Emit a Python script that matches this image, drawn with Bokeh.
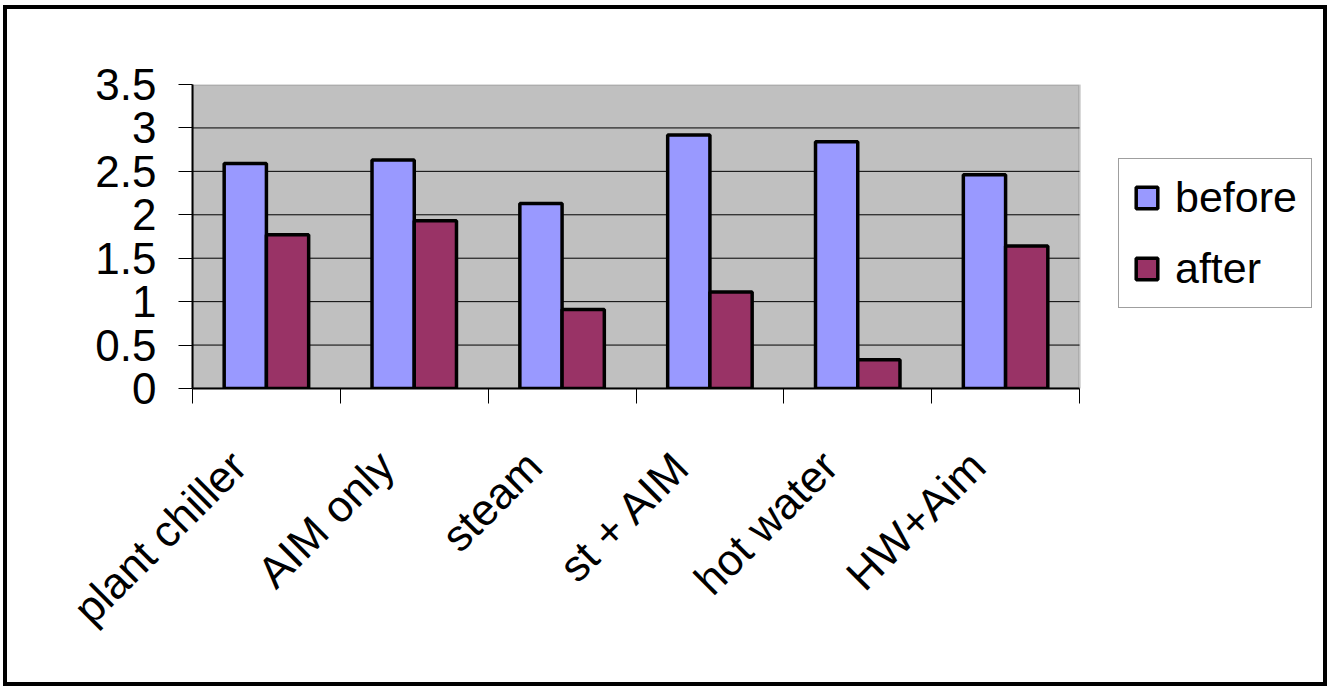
import numpy as np
from bokeh.plotting import figure
from bokeh.models import (ColumnDataSource, Range1d, FixedTicker, NumeralTickFormatter,
                          Legend, LegendItem, BoxAnnotation)
from bokeh.embed import file_html
from bokeh.resources import INLINE

categories = ["plant chiller", "AIM only", "steam", "st + AIM", "hot water", "HW+Aim"]
before = [2.59, 2.63, 2.13, 2.92, 2.84, 2.46]
after = [1.77, 1.93, 0.91, 1.11, 0.33, 1.64]
y_ticks = [0, 0.5, 1, 1.5, 2, 2.5, 3, 3.5]

FONT = "Liberation Sans"
FS = "44px"
BORDER = 4
W, H = 1316, 673          # canvas inside the 4px page border
LW, LH = W + 2 * BORDER, H + 2 * BORDER   # size Bokeh lays out with (host incl. border)
OX, OY = 7, 9             # canvas origin in the window
PL, PR, PT, PB = 192, 1079, 84, 388   # grey plot area in window pixels

n = len(categories)
idx = np.arange(n)
bw = 1 / 3.5              # Excel gap width 150%
lab_shift = 0.19          # slanted labels sit left of the category centre
centers = idx + lab_shift
src = ColumnDataSource(dict(xb=centers - bw / 2, xa=centers + bw / 2,
                            before=before, after=after))

x0 = lab_shift - 0.5
x1 = n - 0.5 + lab_shift
# the frame runs on to the right edge of the canvas so that the legend is not clipped
x_end = x0 + (OX + LW - PL) / (PR - PL) * (x1 - x0)

p = figure(width=W, height=H, output_backend="svg", toolbar_location=None,
           x_range=Range1d(x0, x_end), y_range=Range1d(0, 3.5),
           min_border_left=PL - OX, min_border_right=0,
           min_border_top=PT - OY, min_border_bottom=OY + LH - PB,
           styles={"border": f"{BORDER}px solid black", "margin-left": "3px",
                   "margin-top": "5px", "box-sizing": "content-box"})
p.background_fill_color = "white"
p.border_fill_color = "white"
p.outline_line_color = None
p.xgrid.grid_line_color = None
p.ygrid.grid_line_color = None

area = BoxAnnotation(left=x0, right=x1, bottom=0, top=3.5, fill_color="#C0C0C0",
                     fill_alpha=1, line_color="#808080", line_width=3, level="underlay")
p.add_layout(area)

# horizontal grid lines, only across the grey plot area
gy = y_ticks[1:-1]
p.segment(x0=[x0] * len(gy), x1=[x1] * len(gy), y0=gy, y1=gy,
          line_color="black", line_width=1)

rb = p.vbar(x="xb", top="before", width=bw, source=src, fill_color="#9999FF",
            line_color="black", line_width=3.5)
ra = p.vbar(x="xa", top="after", width=bw, source=src, fill_color="#993366",
            line_color="black", line_width=3.5)

# y axis
ya = p.yaxis[0]
ya.ticker = FixedTicker(ticks=y_ticks)
ya.formatter = NumeralTickFormatter(format="0.[0]")
ya.major_label_text_font = FONT
ya.major_label_text_font_size = FS
ya.major_label_text_color = "black"
ya.major_tick_out = 14
ya.major_tick_in = 0
ya.major_tick_line_color = "black"
ya.minor_tick_line_color = None
ya.major_label_standoff = 22
ya.axis_line_color = "black"
ya.axis_line_width = 2

# x axis: labels at integer anchors, boundary ticks as minor ticks
xa = p.xaxis[0]
xa.bounds = (x0, x1)
xa.ticker = FixedTicker(ticks=list(idx), minor_ticks=list(np.arange(n + 1) + x0))
xa.major_label_overrides = {int(i): c for i, c in zip(idx, categories)}
xa.major_label_orientation = np.pi / 4
xa.major_label_text_font = FONT
xa.major_label_text_font_size = FS
xa.major_label_text_color = "black"
xa.major_tick_line_color = None
xa.major_tick_out = 0
xa.major_tick_in = 0
xa.minor_tick_line_color = "black"
xa.minor_tick_out = 15
xa.minor_tick_in = 0
xa.major_label_standoff = 55
xa.axis_line_color = "black"
xa.axis_line_width = 2

legend = Legend(items=[LegendItem(label="before", renderers=[rb]),
                       LegendItem(label="after", renderers=[ra])],
                location=(1118 - PL, PB - 308))
legend.label_text_font = FONT
legend.label_text_font_size = "43px"
legend.label_text_color = "black"
legend.glyph_width = 27
legend.glyph_height = 27
legend.label_standoff = 15
legend.padding = 14
legend.spacing = 22
legend.margin = 0
legend.border_line_color = "#404040"
legend.border_line_width = 1
legend.background_fill_color = "white"
legend.background_fill_alpha = 1
p.add_layout(legend, "center")

open("out.html", "w").write(file_html(p, INLINE))
